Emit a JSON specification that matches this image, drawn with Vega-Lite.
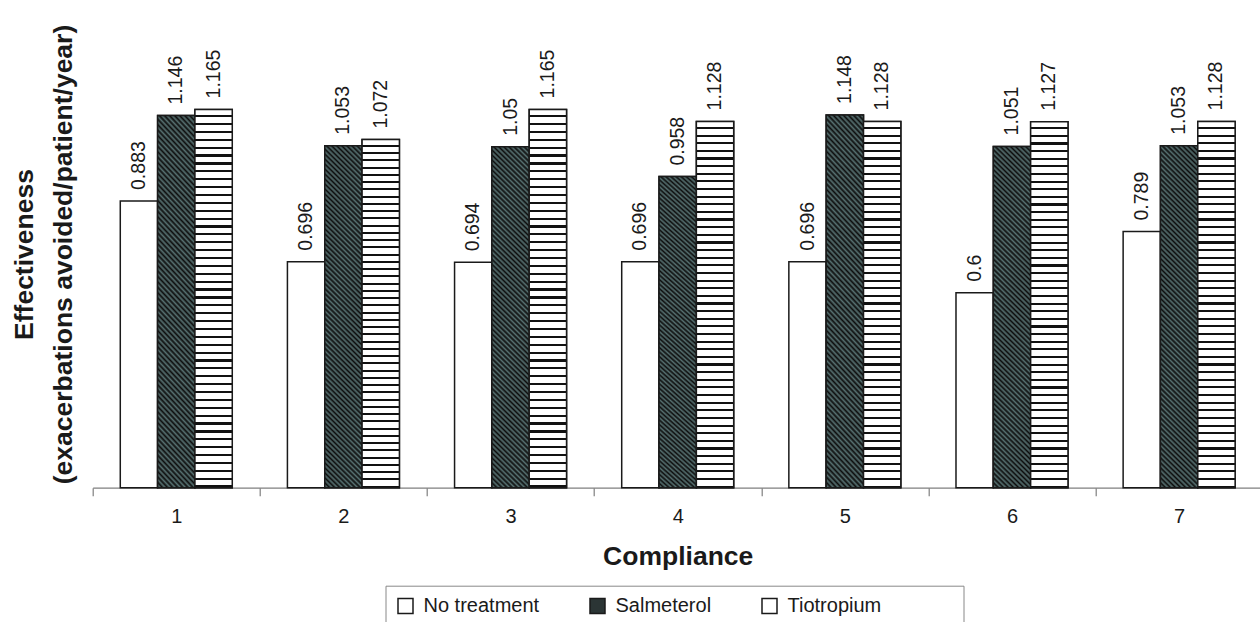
{
  "$schema": "https://vega.github.io/schema/vega-lite/v6.json",
  "width": 1167.3,
  "height": 465,
  "autosize": {"type": "none"},
  "padding": {"left": 92.7, "top": 22.7, "right": 0, "bottom": 134.3},
  "background": "white",
  "config": {"view": {"stroke": null}, "font": "Liberation Sans"},
  "data": {
    "values": [
      {"Compliance": "1", "Treatment": "No treatment", "Value": 0.883},
      {"Compliance": "1", "Treatment": "Salmeterol", "Value": 1.146},
      {"Compliance": "1", "Treatment": "Tiotropium", "Value": 1.165},
      {"Compliance": "2", "Treatment": "No treatment", "Value": 0.696},
      {"Compliance": "2", "Treatment": "Salmeterol", "Value": 1.053},
      {"Compliance": "2", "Treatment": "Tiotropium", "Value": 1.072},
      {"Compliance": "3", "Treatment": "No treatment", "Value": 0.694},
      {"Compliance": "3", "Treatment": "Salmeterol", "Value": 1.05},
      {"Compliance": "3", "Treatment": "Tiotropium", "Value": 1.165},
      {"Compliance": "4", "Treatment": "No treatment", "Value": 0.696},
      {"Compliance": "4", "Treatment": "Salmeterol", "Value": 0.958},
      {"Compliance": "4", "Treatment": "Tiotropium", "Value": 1.128},
      {"Compliance": "5", "Treatment": "No treatment", "Value": 0.696},
      {"Compliance": "5", "Treatment": "Salmeterol", "Value": 1.148},
      {"Compliance": "5", "Treatment": "Tiotropium", "Value": 1.128},
      {"Compliance": "6", "Treatment": "No treatment", "Value": 0.6},
      {"Compliance": "6", "Treatment": "Salmeterol", "Value": 1.051},
      {"Compliance": "6", "Treatment": "Tiotropium", "Value": 1.127},
      {"Compliance": "7", "Treatment": "No treatment", "Value": 0.789},
      {"Compliance": "7", "Treatment": "Salmeterol", "Value": 1.053},
      {"Compliance": "7", "Treatment": "Tiotropium", "Value": 1.128}
    ]
  },
  "encoding": {
    "x": {
      "field": "Compliance",
      "type": "ordinal",
      "scale": {"range": [0, 1170], "paddingInner": 0.33, "paddingOuter": 0.165},
      "axis": {
        "title": "Compliance",
        "titleFontSize": 26.5,
        "titleFontWeight": "bold",
        "titleColor": "#1a1a1a",
        "titleBaseline": "alphabetic",
        "titleY": 76.5,
        "labelAngle": 0,
        "labelFontSize": 20,
        "labelColor": "#1a1a1a",
        "labelPadding": 11,
        "labelOffset": 27.58,
        "bandPosition": 0,
        "tickOffset": -27.58,
        "tickSize": 8,
        "tickColor": "#7f7f7f",
        "tickWidth": 1.2,
        "domainColor": "#7f7f7f",
        "domainWidth": 1.2,
        "grid": false
      }
    },
    "xOffset": {
      "field": "Treatment",
      "type": "nominal",
      "scale": {"domain": ["No treatment", "Salmeterol", "Tiotropium"], "paddingInner": 0, "paddingOuter": 0}
    },
    "y": {
      "field": "Value",
      "type": "quantitative",
      "scale": {"domain": [0, 1.432], "nice": false, "zero": true},
      "axis": {
        "title": ["Effectiveness", "(exacerbations avoided/patient/year)"],
        "domain": false,
        "ticks": false,
        "labels": false,
        "grid": false,
        "titleFontSize": 26.5,
        "titleFontWeight": "bold",
        "titleColor": "#1a1a1a",
        "titleAngle": 270,
        "titleAlign": "center",
        "titleBaseline": "alphabetic",
        "titleX": -59.7,
        "titleY": 231.3,
        "titleLineHeight": 38
      }
    }
  },
  "layer": [
    {
      "mark": {"type": "bar", "stroke": "#1a1a1a", "strokeWidth": 1.5},
      "encoding": {
        "fill": {
          "field": "Treatment",
          "type": "nominal",
          "scale": {"domain": ["No treatment", "Salmeterol", "Tiotropium"], "range": ["#ffffff", "#2b3535", "#ffffff"]},
          "legend": {
            "title": null,
            "orient": "none",
            "legendX": 292.8,
            "legendY": 563,
            "direction": "horizontal",
            "columns": 3,
            "columnPadding": 47,
            "padding": 10,
            "strokeColor": "#888888",
            "fillColor": "#ffffff",
            "symbolType": "square",
            "symbolSize": 225,
            "symbolStrokeColor": "#1a1a1a",
            "symbolStrokeWidth": 1.5,
            "labelFontSize": 20,
            "labelColor": "#1a1a1a",
            "labelFont": "Liberation Sans",
            "labelOffset": 8,
            "labelLimit": 400,
            "labelExpr": "datum.label == 'Tiotropium' ? datum.label + '\u00a0\u00a0\u00a0\u00a0\u00a0\u00a0\u00a0\u00a0\u00a0\u00a0\u00a0\u00a0\u00a0\u200b' : datum.label"
          }
        }
      }
    },
    {
      "transform": [{"filter": "datum.Treatment == 'Salmeterol'"}],
      "mark": {
        "type": "bar",
        "stroke": "#1a1a1a",
        "strokeWidth": 1.5,
        "fill": {
          "gradient": "linear",
          "x1": 0, "y1": 1, "x2": 0.1171, "y2": -0.0945,
          "stops": [
            {"offset": 0, "color": "#0d0d0d"}, {"offset": 0.00658, "color": "#567070"}, {"offset": 0.01316, "color": "#0d0d0d"}, {"offset": 0.01974, "color": "#567070"},
            {"offset": 0.02632, "color": "#0d0d0d"}, {"offset": 0.03289, "color": "#567070"}, {"offset": 0.03947, "color": "#0d0d0d"}, {"offset": 0.04605, "color": "#567070"},
            {"offset": 0.05263, "color": "#0d0d0d"}, {"offset": 0.05921, "color": "#567070"}, {"offset": 0.06579, "color": "#0d0d0d"}, {"offset": 0.07237, "color": "#567070"},
            {"offset": 0.07895, "color": "#0d0d0d"}, {"offset": 0.08553, "color": "#567070"}, {"offset": 0.09211, "color": "#0d0d0d"}, {"offset": 0.09868, "color": "#567070"},
            {"offset": 0.10526, "color": "#0d0d0d"}, {"offset": 0.11184, "color": "#567070"}, {"offset": 0.11842, "color": "#0d0d0d"}, {"offset": 0.125, "color": "#567070"},
            {"offset": 0.13158, "color": "#0d0d0d"}, {"offset": 0.13816, "color": "#567070"}, {"offset": 0.14474, "color": "#0d0d0d"}, {"offset": 0.15132, "color": "#567070"},
            {"offset": 0.15789, "color": "#0d0d0d"}, {"offset": 0.16447, "color": "#567070"}, {"offset": 0.17105, "color": "#0d0d0d"}, {"offset": 0.17763, "color": "#567070"},
            {"offset": 0.18421, "color": "#0d0d0d"}, {"offset": 0.19079, "color": "#567070"}, {"offset": 0.19737, "color": "#0d0d0d"}, {"offset": 0.20395, "color": "#567070"},
            {"offset": 0.21053, "color": "#0d0d0d"}, {"offset": 0.21711, "color": "#567070"}, {"offset": 0.22368, "color": "#0d0d0d"}, {"offset": 0.23026, "color": "#567070"},
            {"offset": 0.23684, "color": "#0d0d0d"}, {"offset": 0.24342, "color": "#567070"}, {"offset": 0.25, "color": "#0d0d0d"}, {"offset": 0.25658, "color": "#567070"},
            {"offset": 0.26316, "color": "#0d0d0d"}, {"offset": 0.26974, "color": "#567070"}, {"offset": 0.27632, "color": "#0d0d0d"}, {"offset": 0.28289, "color": "#567070"},
            {"offset": 0.28947, "color": "#0d0d0d"}, {"offset": 0.29605, "color": "#567070"}, {"offset": 0.30263, "color": "#0d0d0d"}, {"offset": 0.30921, "color": "#567070"},
            {"offset": 0.31579, "color": "#0d0d0d"}, {"offset": 0.32237, "color": "#567070"}, {"offset": 0.32895, "color": "#0d0d0d"}, {"offset": 0.33553, "color": "#567070"},
            {"offset": 0.34211, "color": "#0d0d0d"}, {"offset": 0.34868, "color": "#567070"}, {"offset": 0.35526, "color": "#0d0d0d"}, {"offset": 0.36184, "color": "#567070"},
            {"offset": 0.36842, "color": "#0d0d0d"}, {"offset": 0.375, "color": "#567070"}, {"offset": 0.38158, "color": "#0d0d0d"}, {"offset": 0.38816, "color": "#567070"},
            {"offset": 0.39474, "color": "#0d0d0d"}, {"offset": 0.40132, "color": "#567070"}, {"offset": 0.40789, "color": "#0d0d0d"}, {"offset": 0.41447, "color": "#567070"},
            {"offset": 0.42105, "color": "#0d0d0d"}, {"offset": 0.42763, "color": "#567070"}, {"offset": 0.43421, "color": "#0d0d0d"}, {"offset": 0.44079, "color": "#567070"},
            {"offset": 0.44737, "color": "#0d0d0d"}, {"offset": 0.45395, "color": "#567070"}, {"offset": 0.46053, "color": "#0d0d0d"}, {"offset": 0.46711, "color": "#567070"},
            {"offset": 0.47368, "color": "#0d0d0d"}, {"offset": 0.48026, "color": "#567070"}, {"offset": 0.48684, "color": "#0d0d0d"}, {"offset": 0.49342, "color": "#567070"},
            {"offset": 0.5, "color": "#0d0d0d"}, {"offset": 0.50658, "color": "#567070"}, {"offset": 0.51316, "color": "#0d0d0d"}, {"offset": 0.51974, "color": "#567070"},
            {"offset": 0.52632, "color": "#0d0d0d"}, {"offset": 0.53289, "color": "#567070"}, {"offset": 0.53947, "color": "#0d0d0d"}, {"offset": 0.54605, "color": "#567070"},
            {"offset": 0.55263, "color": "#0d0d0d"}, {"offset": 0.55921, "color": "#567070"}, {"offset": 0.56579, "color": "#0d0d0d"}, {"offset": 0.57237, "color": "#567070"},
            {"offset": 0.57895, "color": "#0d0d0d"}, {"offset": 0.58553, "color": "#567070"}, {"offset": 0.59211, "color": "#0d0d0d"}, {"offset": 0.59868, "color": "#567070"},
            {"offset": 0.60526, "color": "#0d0d0d"}, {"offset": 0.61184, "color": "#567070"}, {"offset": 0.61842, "color": "#0d0d0d"}, {"offset": 0.625, "color": "#567070"},
            {"offset": 0.63158, "color": "#0d0d0d"}, {"offset": 0.63816, "color": "#567070"}, {"offset": 0.64474, "color": "#0d0d0d"}, {"offset": 0.65132, "color": "#567070"},
            {"offset": 0.65789, "color": "#0d0d0d"}, {"offset": 0.66447, "color": "#567070"}, {"offset": 0.67105, "color": "#0d0d0d"}, {"offset": 0.67763, "color": "#567070"},
            {"offset": 0.68421, "color": "#0d0d0d"}, {"offset": 0.69079, "color": "#567070"}, {"offset": 0.69737, "color": "#0d0d0d"}, {"offset": 0.70395, "color": "#567070"},
            {"offset": 0.71053, "color": "#0d0d0d"}, {"offset": 0.71711, "color": "#567070"}, {"offset": 0.72368, "color": "#0d0d0d"}, {"offset": 0.73026, "color": "#567070"},
            {"offset": 0.73684, "color": "#0d0d0d"}, {"offset": 0.74342, "color": "#567070"}, {"offset": 0.75, "color": "#0d0d0d"}, {"offset": 0.75658, "color": "#567070"},
            {"offset": 0.76316, "color": "#0d0d0d"}, {"offset": 0.76974, "color": "#567070"}, {"offset": 0.77632, "color": "#0d0d0d"}, {"offset": 0.78289, "color": "#567070"},
            {"offset": 0.78947, "color": "#0d0d0d"}, {"offset": 0.79605, "color": "#567070"}, {"offset": 0.80263, "color": "#0d0d0d"}, {"offset": 0.80921, "color": "#567070"},
            {"offset": 0.81579, "color": "#0d0d0d"}, {"offset": 0.82237, "color": "#567070"}, {"offset": 0.82895, "color": "#0d0d0d"}, {"offset": 0.83553, "color": "#567070"},
            {"offset": 0.84211, "color": "#0d0d0d"}, {"offset": 0.84868, "color": "#567070"}, {"offset": 0.85526, "color": "#0d0d0d"}, {"offset": 0.86184, "color": "#567070"},
            {"offset": 0.86842, "color": "#0d0d0d"}, {"offset": 0.875, "color": "#567070"}, {"offset": 0.88158, "color": "#0d0d0d"}, {"offset": 0.88816, "color": "#567070"},
            {"offset": 0.89474, "color": "#0d0d0d"}, {"offset": 0.90132, "color": "#567070"}, {"offset": 0.90789, "color": "#0d0d0d"}, {"offset": 0.91447, "color": "#567070"},
            {"offset": 0.92105, "color": "#0d0d0d"}, {"offset": 0.92763, "color": "#567070"}, {"offset": 0.93421, "color": "#0d0d0d"}, {"offset": 0.94079, "color": "#567070"},
            {"offset": 0.94737, "color": "#0d0d0d"}, {"offset": 0.95395, "color": "#567070"}, {"offset": 0.96053, "color": "#0d0d0d"}, {"offset": 0.96711, "color": "#567070"},
            {"offset": 0.97368, "color": "#0d0d0d"}, {"offset": 0.98026, "color": "#567070"}, {"offset": 0.98684, "color": "#0d0d0d"}, {"offset": 0.99342, "color": "#567070"},
            {"offset": 1, "color": "#0d0d0d"}
          ]
        }
      }
    },
    {
      "transform": [{"filter": "datum.Treatment == 'Tiotropium'"}],
      "mark": {
        "type": "bar",
        "stroke": "#1a1a1a",
        "strokeWidth": 1.5,
        "fill": {
          "gradient": "linear",
          "x1": 0, "y1": 0, "x2": 0, "y2": 1,
          "stops": [
            {"offset": 0, "color": "#ffffff"}, {"offset": 0.015, "color": "#ffffff"}, {"offset": 0.015, "color": "#111111"}, {"offset": 0.02083, "color": "#111111"},
            {"offset": 0.02083, "color": "#ffffff"}, {"offset": 0.03583, "color": "#ffffff"}, {"offset": 0.03583, "color": "#111111"}, {"offset": 0.04167, "color": "#111111"},
            {"offset": 0.04167, "color": "#ffffff"}, {"offset": 0.05667, "color": "#ffffff"}, {"offset": 0.05667, "color": "#111111"}, {"offset": 0.0625, "color": "#111111"},
            {"offset": 0.0625, "color": "#ffffff"}, {"offset": 0.0775, "color": "#ffffff"}, {"offset": 0.0775, "color": "#111111"}, {"offset": 0.08333, "color": "#111111"},
            {"offset": 0.08333, "color": "#ffffff"}, {"offset": 0.09833, "color": "#ffffff"}, {"offset": 0.09833, "color": "#111111"}, {"offset": 0.10417, "color": "#111111"},
            {"offset": 0.10417, "color": "#ffffff"}, {"offset": 0.11917, "color": "#ffffff"}, {"offset": 0.11917, "color": "#111111"}, {"offset": 0.125, "color": "#111111"},
            {"offset": 0.125, "color": "#ffffff"}, {"offset": 0.14, "color": "#ffffff"}, {"offset": 0.14, "color": "#111111"}, {"offset": 0.14583, "color": "#111111"},
            {"offset": 0.14583, "color": "#ffffff"}, {"offset": 0.16083, "color": "#ffffff"}, {"offset": 0.16083, "color": "#111111"}, {"offset": 0.16667, "color": "#111111"},
            {"offset": 0.16667, "color": "#ffffff"}, {"offset": 0.18167, "color": "#ffffff"}, {"offset": 0.18167, "color": "#111111"}, {"offset": 0.1875, "color": "#111111"},
            {"offset": 0.1875, "color": "#ffffff"}, {"offset": 0.2025, "color": "#ffffff"}, {"offset": 0.2025, "color": "#111111"}, {"offset": 0.20833, "color": "#111111"},
            {"offset": 0.20833, "color": "#ffffff"}, {"offset": 0.22333, "color": "#ffffff"}, {"offset": 0.22333, "color": "#111111"}, {"offset": 0.22917, "color": "#111111"},
            {"offset": 0.22917, "color": "#ffffff"}, {"offset": 0.24417, "color": "#ffffff"}, {"offset": 0.24417, "color": "#111111"}, {"offset": 0.25, "color": "#111111"},
            {"offset": 0.25, "color": "#ffffff"}, {"offset": 0.265, "color": "#ffffff"}, {"offset": 0.265, "color": "#111111"}, {"offset": 0.27083, "color": "#111111"},
            {"offset": 0.27083, "color": "#ffffff"}, {"offset": 0.28583, "color": "#ffffff"}, {"offset": 0.28583, "color": "#111111"}, {"offset": 0.29167, "color": "#111111"},
            {"offset": 0.29167, "color": "#ffffff"}, {"offset": 0.30667, "color": "#ffffff"}, {"offset": 0.30667, "color": "#111111"}, {"offset": 0.3125, "color": "#111111"},
            {"offset": 0.3125, "color": "#ffffff"}, {"offset": 0.3275, "color": "#ffffff"}, {"offset": 0.3275, "color": "#111111"}, {"offset": 0.33333, "color": "#111111"},
            {"offset": 0.33333, "color": "#ffffff"}, {"offset": 0.34833, "color": "#ffffff"}, {"offset": 0.34833, "color": "#111111"}, {"offset": 0.35417, "color": "#111111"},
            {"offset": 0.35417, "color": "#ffffff"}, {"offset": 0.36917, "color": "#ffffff"}, {"offset": 0.36917, "color": "#111111"}, {"offset": 0.375, "color": "#111111"},
            {"offset": 0.375, "color": "#ffffff"}, {"offset": 0.39, "color": "#ffffff"}, {"offset": 0.39, "color": "#111111"}, {"offset": 0.39583, "color": "#111111"},
            {"offset": 0.39583, "color": "#ffffff"}, {"offset": 0.41083, "color": "#ffffff"}, {"offset": 0.41083, "color": "#111111"}, {"offset": 0.41667, "color": "#111111"},
            {"offset": 0.41667, "color": "#ffffff"}, {"offset": 0.43167, "color": "#ffffff"}, {"offset": 0.43167, "color": "#111111"}, {"offset": 0.4375, "color": "#111111"},
            {"offset": 0.4375, "color": "#ffffff"}, {"offset": 0.4525, "color": "#ffffff"}, {"offset": 0.4525, "color": "#111111"}, {"offset": 0.45833, "color": "#111111"},
            {"offset": 0.45833, "color": "#ffffff"}, {"offset": 0.47333, "color": "#ffffff"}, {"offset": 0.47333, "color": "#111111"}, {"offset": 0.47917, "color": "#111111"},
            {"offset": 0.47917, "color": "#ffffff"}, {"offset": 0.49417, "color": "#ffffff"}, {"offset": 0.49417, "color": "#111111"}, {"offset": 0.5, "color": "#111111"},
            {"offset": 0.5, "color": "#ffffff"}, {"offset": 0.515, "color": "#ffffff"}, {"offset": 0.515, "color": "#111111"}, {"offset": 0.52083, "color": "#111111"},
            {"offset": 0.52083, "color": "#ffffff"}, {"offset": 0.53583, "color": "#ffffff"}, {"offset": 0.53583, "color": "#111111"}, {"offset": 0.54167, "color": "#111111"},
            {"offset": 0.54167, "color": "#ffffff"}, {"offset": 0.55667, "color": "#ffffff"}, {"offset": 0.55667, "color": "#111111"}, {"offset": 0.5625, "color": "#111111"},
            {"offset": 0.5625, "color": "#ffffff"}, {"offset": 0.5775, "color": "#ffffff"}, {"offset": 0.5775, "color": "#111111"}, {"offset": 0.58333, "color": "#111111"},
            {"offset": 0.58333, "color": "#ffffff"}, {"offset": 0.59833, "color": "#ffffff"}, {"offset": 0.59833, "color": "#111111"}, {"offset": 0.60417, "color": "#111111"},
            {"offset": 0.60417, "color": "#ffffff"}, {"offset": 0.61917, "color": "#ffffff"}, {"offset": 0.61917, "color": "#111111"}, {"offset": 0.625, "color": "#111111"},
            {"offset": 0.625, "color": "#ffffff"}, {"offset": 0.64, "color": "#ffffff"}, {"offset": 0.64, "color": "#111111"}, {"offset": 0.64583, "color": "#111111"},
            {"offset": 0.64583, "color": "#ffffff"}, {"offset": 0.66083, "color": "#ffffff"}, {"offset": 0.66083, "color": "#111111"}, {"offset": 0.66667, "color": "#111111"},
            {"offset": 0.66667, "color": "#ffffff"}, {"offset": 0.68167, "color": "#ffffff"}, {"offset": 0.68167, "color": "#111111"}, {"offset": 0.6875, "color": "#111111"},
            {"offset": 0.6875, "color": "#ffffff"}, {"offset": 0.7025, "color": "#ffffff"}, {"offset": 0.7025, "color": "#111111"}, {"offset": 0.70833, "color": "#111111"},
            {"offset": 0.70833, "color": "#ffffff"}, {"offset": 0.72333, "color": "#ffffff"}, {"offset": 0.72333, "color": "#111111"}, {"offset": 0.72917, "color": "#111111"},
            {"offset": 0.72917, "color": "#ffffff"}, {"offset": 0.74417, "color": "#ffffff"}, {"offset": 0.74417, "color": "#111111"}, {"offset": 0.75, "color": "#111111"},
            {"offset": 0.75, "color": "#ffffff"}, {"offset": 0.765, "color": "#ffffff"}, {"offset": 0.765, "color": "#111111"}, {"offset": 0.77083, "color": "#111111"},
            {"offset": 0.77083, "color": "#ffffff"}, {"offset": 0.78583, "color": "#ffffff"}, {"offset": 0.78583, "color": "#111111"}, {"offset": 0.79167, "color": "#111111"},
            {"offset": 0.79167, "color": "#ffffff"}, {"offset": 0.80667, "color": "#ffffff"}, {"offset": 0.80667, "color": "#111111"}, {"offset": 0.8125, "color": "#111111"},
            {"offset": 0.8125, "color": "#ffffff"}, {"offset": 0.8275, "color": "#ffffff"}, {"offset": 0.8275, "color": "#111111"}, {"offset": 0.83333, "color": "#111111"},
            {"offset": 0.83333, "color": "#ffffff"}, {"offset": 0.84833, "color": "#ffffff"}, {"offset": 0.84833, "color": "#111111"}, {"offset": 0.85417, "color": "#111111"},
            {"offset": 0.85417, "color": "#ffffff"}, {"offset": 0.86917, "color": "#ffffff"}, {"offset": 0.86917, "color": "#111111"}, {"offset": 0.875, "color": "#111111"},
            {"offset": 0.875, "color": "#ffffff"}, {"offset": 0.89, "color": "#ffffff"}, {"offset": 0.89, "color": "#111111"}, {"offset": 0.89583, "color": "#111111"},
            {"offset": 0.89583, "color": "#ffffff"}, {"offset": 0.91083, "color": "#ffffff"}, {"offset": 0.91083, "color": "#111111"}, {"offset": 0.91667, "color": "#111111"},
            {"offset": 0.91667, "color": "#ffffff"}, {"offset": 0.93167, "color": "#ffffff"}, {"offset": 0.93167, "color": "#111111"}, {"offset": 0.9375, "color": "#111111"},
            {"offset": 0.9375, "color": "#ffffff"}, {"offset": 0.9525, "color": "#ffffff"}, {"offset": 0.9525, "color": "#111111"}, {"offset": 0.95833, "color": "#111111"},
            {"offset": 0.95833, "color": "#ffffff"}, {"offset": 0.97333, "color": "#ffffff"}, {"offset": 0.97333, "color": "#111111"}, {"offset": 0.97917, "color": "#111111"},
            {"offset": 0.97917, "color": "#ffffff"}, {"offset": 0.99417, "color": "#ffffff"}, {"offset": 0.99417, "color": "#111111"}, {"offset": 1, "color": "#111111"}
          ]
        }
      }
    },
    {
      "mark": {"type": "text", "angle": 270, "align": "left", "baseline": "middle", "dx": 11, "fontSize": 19.5, "color": "#1a1a1a", "font": "Liberation Sans"},
      "encoding": {"text": {"field": "Value", "type": "quantitative"}}
    }
  ]
}
